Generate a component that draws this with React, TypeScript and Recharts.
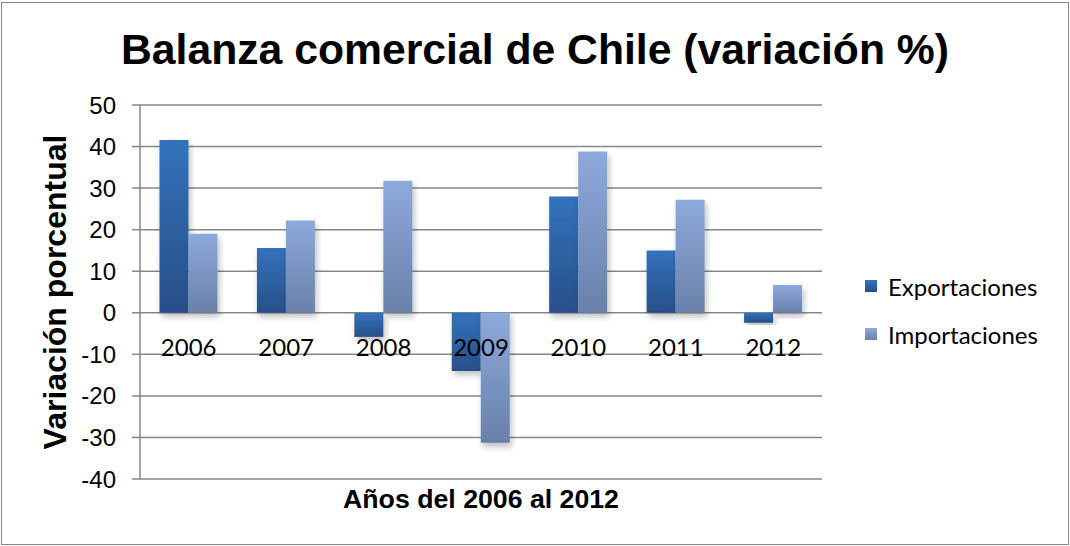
import React from 'react';
import { BarChart, Bar, XAxis, YAxis, CartesianGrid, Legend } from 'recharts';

const years = ['2006', '2007', '2008', '2009', '2010', '2011', '2012'];
const exportaciones = [41.6, 15.6, -5.8, -14.0, 28.0, 15.0, -2.4];
const importaciones = [19.0, 22.2, 31.8, -31.3, 38.8, 27.2, 6.7];
const yTicks = [-40, -30, -20, -10, 0, 10, 20, 30, 40, 50];

const data = years.map((year, i) => ({
  year,
  exportaciones: exportaciones[i],
  importaciones: importaciones[i],
}));

const W = 1070;
const H = 546;
const margin = { top: 105, right: 58, bottom: 27, left: 20 };
const xAxisHeight = 40;
const yMin = -40;
const yMax = 50;
const plotTop = margin.top;
const plotBottom = H - margin.bottom - xAxisHeight;
const zeroY = plotTop + (yMax / (yMax - yMin)) * (plotBottom - plotTop);

const gridColor = '#868686';
const arial = "'Liberation Sans', Arial, sans-serif";
const calibri = "Lato, 'Open Sans', sans-serif";

const YearTick = (props: any) => {
  const { x, payload } = props;
  return (
    <text x={x} y={zeroY + 43} textAnchor="middle" fontFamily={calibri} fontSize={24} fill="#000">
      {payload.value}
    </text>
  );
};

const YLabel = () => {
  const cy = (plotTop + plotBottom) / 2;
  return (
    <text
      x={55}
      y={cy}
      transform={`rotate(-90 55 ${cy})`}
      textAnchor="middle"
      dominantBaseline="central"
      fontFamily={arial}
      fontWeight="bold"
      fontSize={32}
      fill="#000"
    >
      Variación porcentual
    </text>
  );
};

const LegendContent = () => {
  const items = [
    { label: 'Exportaciones', fill: 'url(#gradExp)' },
    { label: 'Importaciones', fill: 'url(#gradImp)' },
  ];
  return (
    <div style={{ paddingLeft: 43 }}>
      {items.map((it) => (
        <div
          key={it.label}
          style={{
            display: 'flex',
            alignItems: 'center',
            height: 48,
            fontFamily: calibri,
            fontSize: 24,
            color: '#000',
            whiteSpace: 'nowrap',
          }}
        >
          <svg width={12} height={12} style={{ marginRight: 11, flexShrink: 0 }}>
            <rect width={12} height={12} fill={it.fill} />
          </svg>
          {it.label}
        </div>
      ))}
    </div>
  );
};

export default function App() {
  return (
    <div style={{ position: 'fixed', left: 0, top: 0, width: W, height: H, background: '#fff' }}>
      <div
        style={{
          position: 'absolute',
          left: 1,
          top: 2,
          width: W - 4,
          height: H - 5,
          border: '1px solid #878787',
        }}
      />
      <div
        style={{
          position: 'absolute',
          left: 0,
          top: 24,
          width: W,
          textAlign: 'center',
          fontFamily: arial,
          fontWeight: 'bold',
          fontSize: 42.7,
          lineHeight: '50px',
          color: '#000',
        }}
      >
        Balanza comercial de Chile (variación %)
      </div>
      <div style={{ position: 'absolute', left: 0, top: 0 }}>
        <BarChart
          width={W}
          height={H}
          data={data}
          margin={margin}
          barCategoryGap="20%"
          barGap={0}
        >
          <defs>
            <linearGradient id="gradExp" x1="0" y1="0" x2="0" y2="1">
              <stop offset="0%" stopColor="#3372BC" />
              <stop offset="100%" stopColor="#284F88" />
            </linearGradient>
            <linearGradient id="gradImp" x1="0" y1="0" x2="0" y2="1">
              <stop offset="0%" stopColor="#8DAADC" />
              <stop offset="100%" stopColor="#6980AA" />
            </linearGradient>
            <filter id="barShadow" x="-20%" y="-20%" width="140%" height="140%">
              <feDropShadow dx="2" dy="4" stdDeviation="3" floodColor="#000" floodOpacity="0.25" />
            </filter>
          </defs>
          <CartesianGrid vertical={false} stroke={gridColor} strokeWidth={1.5} />
          <XAxis
            dataKey="year"
            height={xAxisHeight}
            axisLine={false}
            tickLine={false}
            tick={<YearTick />}
            label={{
              value: 'Años del 2006 al 2012',
              position: 'center',
              fill: '#000',
              fontFamily: arial,
              fontWeight: 'bold',
              fontSize: 26.7,
            }}
          />
          <YAxis
            width={120}
            domain={[yMin, yMax]}
            ticks={yTicks}
            interval={0}
            allowDataOverflow
            axisLine={{ stroke: gridColor, strokeWidth: 1.5 }}
            tickLine={{ stroke: gridColor, strokeWidth: 1.5 }}
            tickSize={8}
            tickMargin={16}
            tick={{ fill: '#000', fontFamily: arial, fontSize: 24 }}
            label={<YLabel />}
          />
          <Legend
            layout="vertical"
            align="right"
            verticalAlign="middle"
            width={190}
            wrapperStyle={{ top: 262, right: 58 }}
            content={<LegendContent />}
          />
          <Bar
            dataKey="exportaciones"
            name="Exportaciones"
            fill="url(#gradExp)"
            filter="url(#barShadow)"
            isAnimationActive={false}
          />
          <Bar
            dataKey="importaciones"
            name="Importaciones"
            fill="url(#gradImp)"
            filter="url(#barShadow)"
            isAnimationActive={false}
          />
        </BarChart>
      </div>
    </div>
  );
}
